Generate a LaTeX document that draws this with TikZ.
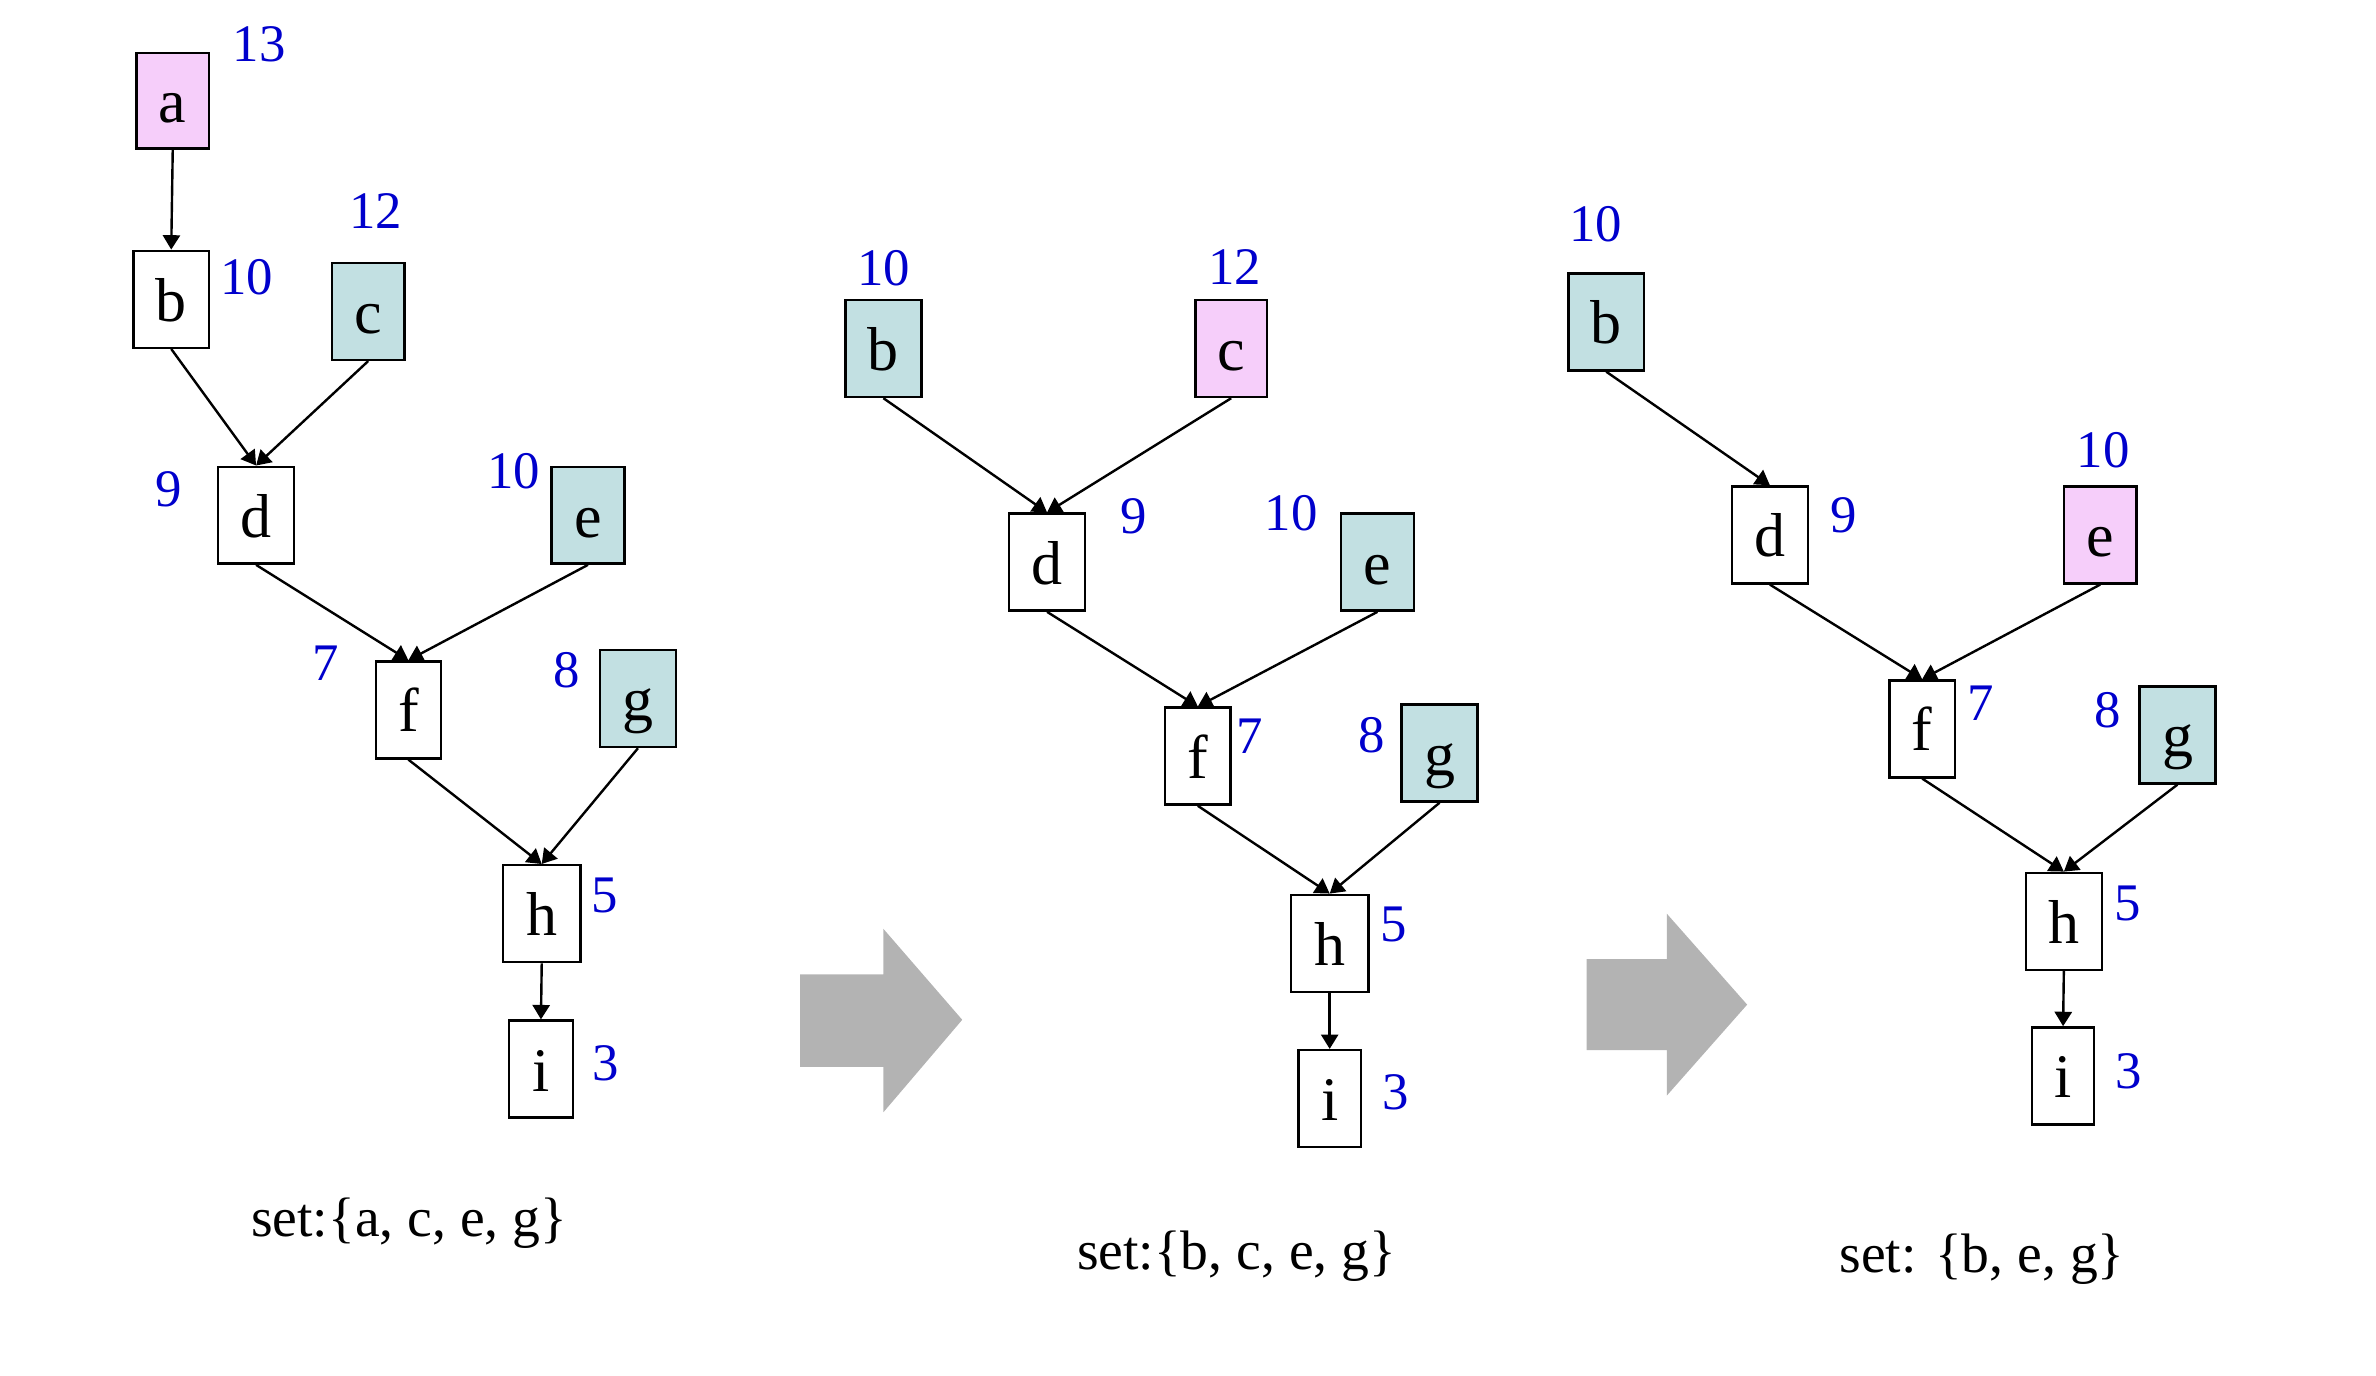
\documentclass[tikz,border=0pt]{standalone}
\usepackage{fontspec}
\setmainfont{Liberation Serif}
\usetikzlibrary{arrows.meta}
\definecolor{pinkfill}{RGB}{246,206,250}
\definecolor{tealfill}{RGB}{194,224,226}
\definecolor{numblue}{RGB}{0,0,204}
\definecolor{arrowgray}{RGB}{179,179,179}
\def\px{0.37883pt}
\begin{document}
\begin{tikzpicture}[x=0.37883pt,y=-0.37883pt,
  vbox/.style={draw=black, line width=0.6pt, fill=white, inner sep=0pt,
    minimum width=50*\px, minimum height=64*\px, text height=11pt, text depth=0pt,
    font=\fontsize{15.5}{17}\selectfont},
  pinkbox/.style={vbox, fill=pinkfill},
  tealbox/.style={vbox, fill=tealfill},
  num/.style={text=numblue, inner sep=0pt, font=\fontsize{13.2}{15}\selectfont},
  edge/.style={-{Triangle[length=3.6pt,width=4.3pt]}, line width=0.6pt},
  setlabel/.style={inner sep=0pt, font=\fontsize{13.9}{16}\selectfont},
  bigarrow/.style={fill=arrowgray, draw=none}]
\useasboundingbox (0,0) rectangle (1568,908);

% ---------- panel 1 ----------
\node[pinkbox, minimum width=48*\px, minimum height=63*\px] (a1) at (114,66.5) {a};
\node[vbox] (b1) at (113,197.5) {b};
\node[tealbox, minimum width=48*\px] (c1) at (243,205.5) {c};
\node[vbox] (d1) at (169,340) {d};
\node[tealbox, minimum width=48*\px] (e1) at (388,340) {e};
\node[vbox, minimum width=43*\px] (f1) at (269.5,468.5) {f};
\node[tealbox] (g1) at (421,461) {g};
\node[vbox, minimum width=51*\px] (h1) at (357.5,603) {h};
\node[vbox, minimum width=42*\px] (i1) at (357,705.5) {i};

\node[num] (na1) at (171,29) {13};
\node[num] (nb1) at (163,183) {10};
\node[num] (nc1) at (248,139) {12};
\node[num] (nd1) at (111,323) {9};
\node[num] (ne1) at (339,311) {10};
\node[num] (nf1) at (215,438) {7};
\node[num] (ng1) at (374,442) {8};
\node[num] (nh1) at (399,591) {5};
\node[num] (ni1) at (400,702) {3};

\draw[edge] (a1.south) -- (b1.north);
\draw[edge] (b1.south) -- (d1.north);
\draw[edge] (c1.south) -- (d1.north);
\draw[edge] (d1.south) -- (f1.north);
\draw[edge] (e1.south) -- (f1.north);
\draw[edge] (f1.south) -- (h1.north);
\draw[edge] (g1.south) -- (h1.north);
\draw[edge] (h1.south) -- (i1.north);

\node[setlabel] (set1) at (270,807) {set:\{a, c, e, g\}};

% ---------- panel 2 ----------
\node[tealbox] (b2) at (583,230) {b};
\node[pinkbox, minimum width=47*\px] (c2) at (812.5,230) {c};
\node[vbox] (d2) at (691,371) {d};
\node[tealbox, minimum width=48*\px] (e2) at (909,371) {e};
\node[vbox, minimum width=43*\px] (f2) at (790.5,499) {f};
\node[tealbox] (g2) at (950,497) {g};
\node[vbox, minimum width=51*\px] (h2) at (877.5,622.5) {h};
\node[vbox, minimum width=41*\px] (i2) at (877.5,725) {i};

\node[num] (nb2) at (583,177) {10};
\node[num] (nc2) at (815,176) {12};
\node[num] (nd2) at (748,341) {9};
\node[num] (ne2) at (852,339) {10};
\node[num] (nf2) at (825,486) {7};
\node[num] (ng2) at (905,485) {8};
\node[num] (nh2) at (920,610) {5};
\node[num] (ni2) at (921,721) {3};

\draw[edge] (b2.south) -- (d2.north);
\draw[edge] (c2.south) -- (d2.north);
\draw[edge] (d2.south) -- (f2.north);
\draw[edge] (e2.south) -- (f2.north);
\draw[edge] (f2.south) -- (h2.north);
\draw[edge] (g2.south) -- (h2.north);
\draw[edge] (h2.south) -- (i2.north);

\node[setlabel] (set2) at (816,829) {set:\{b, c, e, g\}};

% ---------- panel 3 ----------
\node[tealbox] (b3) at (1060,212.5) {b};
\node[vbox] (d3) at (1168,353) {d};
\node[pinkbox, minimum width=48*\px] (e3) at (1386,353) {e};
\node[vbox, minimum width=43*\px] (f3) at (1268.5,481) {f};
\node[tealbox] (g3) at (1437,485) {g};
\node[vbox] (h3) at (1362,608) {h};
\node[vbox, minimum width=41*\px] (i3) at (1361.5,710) {i};

\node[num] (nb3) at (1053,148) {10};
\node[num] (nd3) at (1217,340) {9};
\node[num] (ne3) at (1388,297) {10};
\node[num] (nf3) at (1307,464) {7};
\node[num] (ng3) at (1391,469) {8};
\node[num] (nh3) at (1404,596) {5};
\node[num] (ni3) at (1405,707) {3};

\draw[edge] (b3.south) -- (d3.north);
\draw[edge] (d3.south) -- (f3.north);
\draw[edge] (e3.south) -- (f3.north);
\draw[edge] (f3.south) -- (h3.north);
\draw[edge] (g3.south) -- (h3.north);
\draw[edge] (h3.south) -- (i3.north);

\node[setlabel] (set3) at (1308,831) {set: \{b, e, g\}};

% ---------- block arrows ----------
\fill[bigarrow] (528,643) -- (583,643) -- (583,613) -- (635,673) -- (583,734) -- (583,704) -- (528,704) -- cycle;
\fill[bigarrow] (1047,633) -- (1100,633) -- (1100,603) -- (1153,663) -- (1100,723) -- (1100,693) -- (1047,693) -- cycle;
\end{tikzpicture}
\end{document}
